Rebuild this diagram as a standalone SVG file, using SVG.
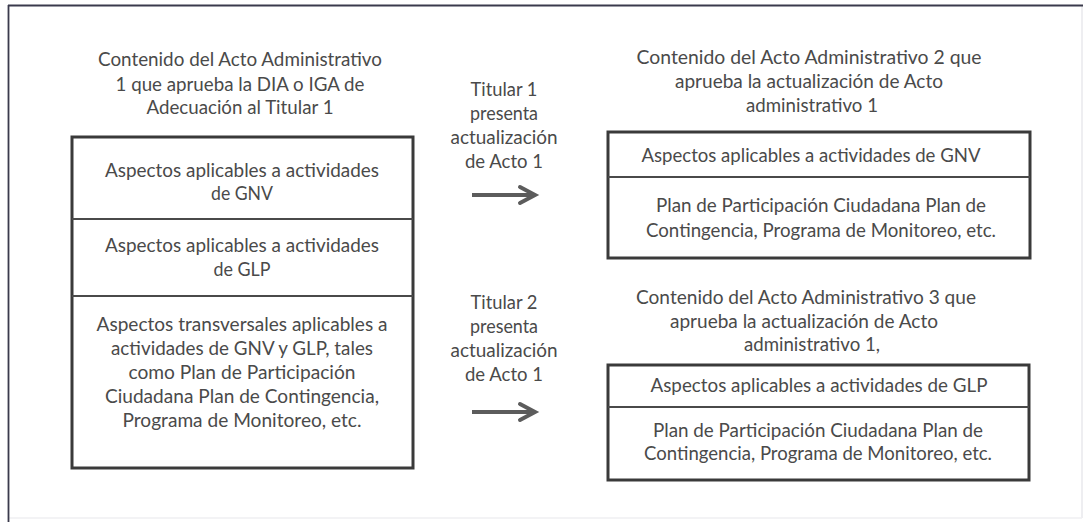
<svg xmlns="http://www.w3.org/2000/svg" width="1083" height="522" viewBox="0 0 1083 522">
  <defs>
    <style>
      text { font-family: Lato, "Liberation Sans", sans-serif; font-size: 19.5px; fill: #4a4a4a; text-anchor: middle; }
      .box { fill: #ffffff; stroke: #3a3a3a; stroke-width: 3; }
      .div { stroke: #4a4a4a; stroke-width: 2; }
      .arrow { stroke: #5c5c5c; stroke-width: 4; fill: none; }
    </style>
    <marker id="head" markerUnits="userSpaceOnUse" markerWidth="20" markerHeight="20" refX="16" refY="9" orient="auto" overflow="visible">
      <path d="M1,1 L16,9 L1,17" fill="none" stroke="#5c5c5c" stroke-width="4" stroke-linecap="round" stroke-linejoin="miter"/>
    </marker>
  </defs>

  <rect width="1083" height="522" fill="#ffffff"/>
  <g id="frame">
    <line x1="1082" y1="5" x2="1082" y2="518" stroke="#e8e8ec" stroke-width="1.5"/>
    <line x1="8" y1="518" x2="1082" y2="518" stroke="#efeff2" stroke-width="1.5"/>
    <line x1="8" y1="5.5" x2="1083" y2="5.5" stroke="#3a3a4c" stroke-width="1.8"/>
    <line x1="8.5" y1="5" x2="8.5" y2="522" stroke="#3a3a4c" stroke-width="1.8"/>
  </g>

  <g id="title-acto1">
    <text x="240" y="66" textLength="284" lengthAdjust="spacingAndGlyphs">Contenido del Acto Administrativo</text>
    <text x="240" y="91" textLength="249" lengthAdjust="spacingAndGlyphs">1 que aprueba la DIA o IGA de</text>
    <text x="240" y="114" textLength="187" lengthAdjust="spacingAndGlyphs">Adecuación al Titular 1</text>
  </g>

  <g id="box-acto1">
    <rect class="box" x="72" y="137" width="341" height="331"/>
    <line class="div" x1="72" y1="219" x2="413" y2="219"/>
    <line class="div" x1="72" y1="296" x2="413" y2="296"/>
    <text x="242" y="177" textLength="274" lengthAdjust="spacingAndGlyphs">Aspectos aplicables a actividades</text>
    <text x="242" y="200" textLength="62" lengthAdjust="spacingAndGlyphs">de GNV</text>
    <text x="242" y="252" textLength="274" lengthAdjust="spacingAndGlyphs">Aspectos aplicables a actividades</text>
    <text x="242" y="276" textLength="57" lengthAdjust="spacingAndGlyphs">de GLP</text>
    <text x="242" y="331" textLength="291" lengthAdjust="spacingAndGlyphs">Aspectos transversales aplicables a</text>
    <text x="242" y="355" textLength="262" lengthAdjust="spacingAndGlyphs">actividades de GNV y GLP, tales</text>
    <text x="242" y="379" textLength="227" lengthAdjust="spacingAndGlyphs">como Plan de Participación</text>
    <text x="242" y="403" textLength="274" lengthAdjust="spacingAndGlyphs">Ciudadana Plan de Contingencia,</text>
    <text x="242" y="427" textLength="239" lengthAdjust="spacingAndGlyphs">Programa de Monitoreo, etc.</text>
  </g>

  <g id="label-titular1">
    <text x="504" y="96" textLength="67" lengthAdjust="spacingAndGlyphs">Titular 1</text>
    <text x="504" y="120" textLength="68" lengthAdjust="spacingAndGlyphs">presenta</text>
    <text x="504" y="144" textLength="107" lengthAdjust="spacingAndGlyphs">actualización</text>
    <text x="504" y="168" textLength="78" lengthAdjust="spacingAndGlyphs">de Acto 1</text>
  </g>

  <g id="label-titular2">
    <text x="504" y="309" textLength="67" lengthAdjust="spacingAndGlyphs">Titular 2</text>
    <text x="504" y="333" textLength="68" lengthAdjust="spacingAndGlyphs">presenta</text>
    <text x="504" y="357" textLength="107" lengthAdjust="spacingAndGlyphs">actualización</text>
    <text x="504" y="381" textLength="78" lengthAdjust="spacingAndGlyphs">de Acto 1</text>
  </g>

  <g id="connectors">
    <line class="arrow" x1="472" y1="195" x2="535" y2="195" marker-end="url(#head)"/>
    <line class="arrow" x1="472" y1="412" x2="535" y2="412" marker-end="url(#head)"/>
  </g>

  <g id="title-acto2">
    <text x="809" y="64" textLength="345" lengthAdjust="spacingAndGlyphs">Contenido del Acto Administrativo 2 que</text>
    <text x="809" y="88" textLength="268" lengthAdjust="spacingAndGlyphs">aprueba la actualización de Acto</text>
    <text x="812" y="112" textLength="132" lengthAdjust="spacingAndGlyphs">administrativo 1</text>
  </g>

  <g id="box-acto2">
    <rect class="box" x="608" y="132" width="422" height="126"/>
    <line class="div" x1="608" y1="177" x2="1030" y2="177"/>
    <text x="811" y="162" textLength="339" lengthAdjust="spacingAndGlyphs">Aspectos aplicables a actividades de GNV</text>
    <text x="821" y="212" textLength="330" lengthAdjust="spacingAndGlyphs">Plan de Participación Ciudadana Plan de</text>
    <text x="821" y="237" textLength="350" lengthAdjust="spacingAndGlyphs">Contingencia, Programa de Monitoreo, etc.</text>
  </g>

  <g id="title-acto3">
    <text x="806" y="304" textLength="340" lengthAdjust="spacingAndGlyphs">Contenido del Acto Administrativo 3 que</text>
    <text x="804" y="328" textLength="268" lengthAdjust="spacingAndGlyphs">aprueba la actualización de Acto</text>
    <text x="812" y="351" textLength="136" lengthAdjust="spacingAndGlyphs">administrativo 1,</text>
  </g>

  <g id="box-acto3">
    <rect class="box" x="608" y="365" width="421" height="115"/>
    <line class="div" x1="608" y1="407" x2="1029" y2="407"/>
    <text x="819" y="392" textLength="337" lengthAdjust="spacingAndGlyphs">Aspectos aplicables a actividades de GLP</text>
    <text x="818" y="437" textLength="330" lengthAdjust="spacingAndGlyphs">Plan de Participación Ciudadana Plan de</text>
    <text x="818" y="460" textLength="348" lengthAdjust="spacingAndGlyphs">Contingencia, Programa de Monitoreo, etc.</text>
  </g>
</svg>
